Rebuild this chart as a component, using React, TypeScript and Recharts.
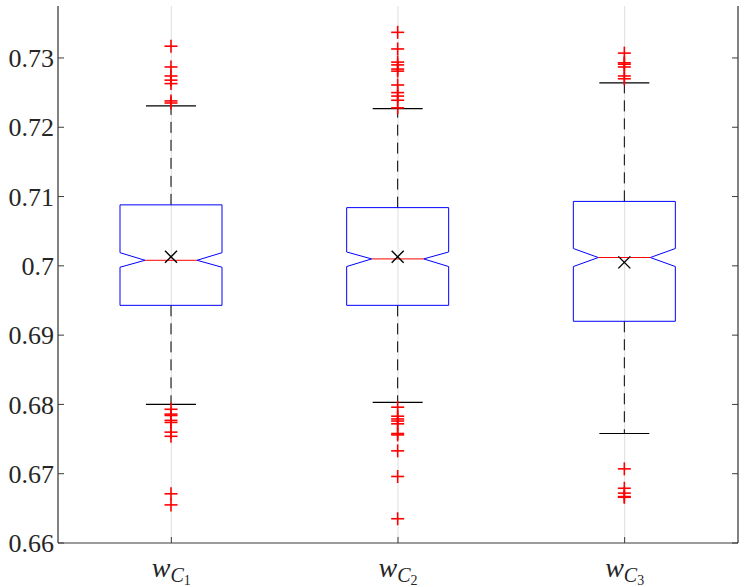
import React from 'react';
import { ComposedChart, Bar, XAxis, YAxis, CartesianGrid } from 'recharts';

// Group labels (subscript index of w_C)
const categories = ['1', '2', '3'];

// Box statistics per group
const whiskerHigh = [0.7231, 0.7227, 0.7264];
const q3 = [0.7088, 0.7084, 0.7093];
const notchHigh = [0.7019, 0.7020, 0.7025];
const median = [0.7008, 0.7010, 0.7012];
const notchLow = [0.6998, 0.6999, 0.6999];
const q1 = [0.6943, 0.6943, 0.6920];
const whiskerLow = [0.6800, 0.6803, 0.6758];
const means = [0.7013, 0.7013, 0.7005];

// Outlying observations per group
const outliers1 = [
  0.7317, 0.7287, 0.7274, 0.7268, 0.7263, 0.7238, 0.7235,
  0.6793, 0.6786, 0.6784, 0.6777, 0.6774, 0.6760, 0.6754, 0.6671, 0.6655,
];
const outliers2 = [
  0.7337, 0.7313, 0.7294, 0.7290, 0.7284, 0.7281, 0.7261, 0.7250, 0.7245, 0.7239, 0.7228,
  0.6796, 0.6783, 0.6779, 0.6776, 0.6772, 0.6758, 0.6756, 0.6733, 0.6696, 0.6635,
];
const outliers3 = [
  0.7307, 0.7293, 0.7291, 0.7287, 0.7274, 0.7270,
  0.6707, 0.6679, 0.6672, 0.6667, 0.6666,
];
const outlierSets = [outliers1, outliers2, outliers3];

const yTicks = [0.66, 0.67, 0.68, 0.69, 0.7, 0.71, 0.72, 0.73];
const yDomain = [0.66, 0.7375];

const data = categories.map((name, i) => ({
  name,
  whiskerHigh: whiskerHigh[i],
  q3: q3[i],
  notchHigh: notchHigh[i],
  median: median[i],
  notchLow: notchLow[i],
  q1: q1[i],
  whiskerLow: whiskerLow[i],
  mean: means[i],
  outliers: outlierSets[i],
}));

const FONT = "'Liberation Serif', 'DejaVu Serif', serif";
const AXIS = '#3a3a3a';

// Notched box with dashed whiskers, caps, median, mean marker and outliers
const BoxShape = (props: any) => {
  const { x, y, width, height, payload } = props;
  const lo = payload.whiskerLow;
  const hi = payload.whiskerHigh;
  const pLo = Math.max(y, y + height);
  const pHi = Math.min(y, y + height);
  const py = (v: number) => pHi + ((hi - v) / (hi - lo)) * (pLo - pHi);
  const cx = x + width / 2;
  const half = width / 2;
  const notchHalf = width * 0.255;
  const capHalf = width * 0.245;

  const left = cx - half;
  const right = cx + half;
  const box = [
    [left, py(payload.q3)],
    [right, py(payload.q3)],
    [right, py(payload.notchHigh)],
    [cx + notchHalf, py(payload.median)],
    [right, py(payload.notchLow)],
    [right, py(payload.q1)],
    [left, py(payload.q1)],
    [left, py(payload.notchLow)],
    [cx - notchHalf, py(payload.median)],
    [left, py(payload.notchHigh)],
  ]
    .map((p) => p.join(','))
    .join(' ');

  const m = 6;
  const my = py(payload.mean);
  const o = 6.5;

  return (
    <g>
      <line x1={cx} x2={cx} y1={py(payload.q3)} y2={py(hi)} stroke="#000" strokeDasharray="11 7" strokeWidth={1} />
      <line x1={cx} x2={cx} y1={py(payload.q1)} y2={py(lo)} stroke="#000" strokeDasharray="11 7" strokeWidth={1} />
      <line x1={cx - capHalf} x2={cx + capHalf} y1={py(hi)} y2={py(hi)} stroke="#000" strokeWidth={1.2} />
      <line x1={cx - capHalf} x2={cx + capHalf} y1={py(lo)} y2={py(lo)} stroke="#000" strokeWidth={1.2} />
      <polygon points={box} fill="none" stroke="#0000ff" strokeWidth={1} />
      <line x1={cx - notchHalf} x2={cx + notchHalf} y1={py(payload.median)} y2={py(payload.median)} stroke="#ff0000" strokeWidth={1} />
      {payload.outliers.map((v: number, k: number) => (
        <g key={k} stroke="#ff0000" strokeWidth={1.6}>
          <line x1={cx - o} x2={cx + o} y1={py(v)} y2={py(v)} />
          <line x1={cx} x2={cx} y1={py(v) - o} y2={py(v) + o} />
        </g>
      ))}
      <g stroke="#000" strokeWidth={1.4}>
        <line x1={cx - m} x2={cx + m} y1={my - m} y2={my + m} />
        <line x1={cx - m} x2={cx + m} y1={my + m} y2={my - m} />
      </g>
    </g>
  );
};

const LeftTick = (props: any) => {
  const { x, y, payload } = props;
  const label = String(Number(payload.value.toFixed(2)));
  return (
    <g>
      <line x1={x} x2={x + 6} y1={y} y2={y} stroke={AXIS} strokeWidth={1} />
      <text x={x - 4} y={y} dy="0.35em" textAnchor="end" fontFamily={FONT} fontSize={26} fill="#262626">
        {label}
      </text>
    </g>
  );
};

const RightTick = (props: any) => {
  const { x, y } = props;
  return <line x1={x - 6} x2={x} y1={y} y2={y} stroke={AXIS} strokeWidth={1} />;
};

const BottomTick = (props: any) => {
  const { x, y, payload } = props;
  return (
    <g>
      <line x1={x} x2={x} y1={y} y2={y - 6} stroke={AXIS} strokeWidth={1} />
      <text x={x} y={y + 34} textAnchor="middle" fontFamily={FONT} fill="#262626">
        <tspan fontStyle="italic" fontSize={28}>w</tspan>
        <tspan fontStyle="italic" fontSize={20} dy={5}>C</tspan>
        <tspan fontSize={14} dy={3}>{payload.value}</tspan>
      </text>
    </g>
  );
};

export default function App() {
  return (
    <div style={{ position: 'absolute', left: 0, top: 0, background: '#fff' }}>
      <ComposedChart
        width={746}
        height={587}
        data={data}
        margin={{ top: 6, right: 0, bottom: 0, left: 0 }}
        barCategoryGap={0}
      >
        <CartesianGrid vertical horizontal={false} stroke="#dedede" strokeWidth={1} />
        <XAxis
          dataKey="name"
          height={44}
          tickSize={0}
          tickMargin={0}
          tick={<BottomTick />}
          tickLine={false}
          axisLine={{ stroke: AXIS, strokeWidth: 1.2 }}
        />
        <XAxis
          dataKey="name"
          xAxisId="top"
          orientation="top"
          height={0}
          tick={false}
          tickLine={false}
          axisLine={{ stroke: AXIS, strokeWidth: 1.2 }}
        />
        <YAxis
          type="number"
          domain={yDomain}
          ticks={yTicks}
          allowDataOverflow
          width={58}
          tickSize={0}
          tickMargin={0}
          tick={<LeftTick />}
          tickLine={false}
          axisLine={{ stroke: AXIS, strokeWidth: 1.2 }}
        />
        <YAxis
          yAxisId="right"
          orientation="right"
          type="number"
          domain={yDomain}
          ticks={yTicks}
          allowDataOverflow
          width={8}
          tickSize={0}
          tickMargin={0}
          tick={<RightTick />}
          tickLine={false}
          axisLine={{ stroke: AXIS, strokeWidth: 1.2 }}
        />
        <Bar
          dataKey={(d: any) => [d.whiskerLow, d.whiskerHigh]}
          barSize={102}
          shape={<BoxShape />}
          isAnimationActive={false}
        />
      </ComposedChart>
    </div>
  );
}
